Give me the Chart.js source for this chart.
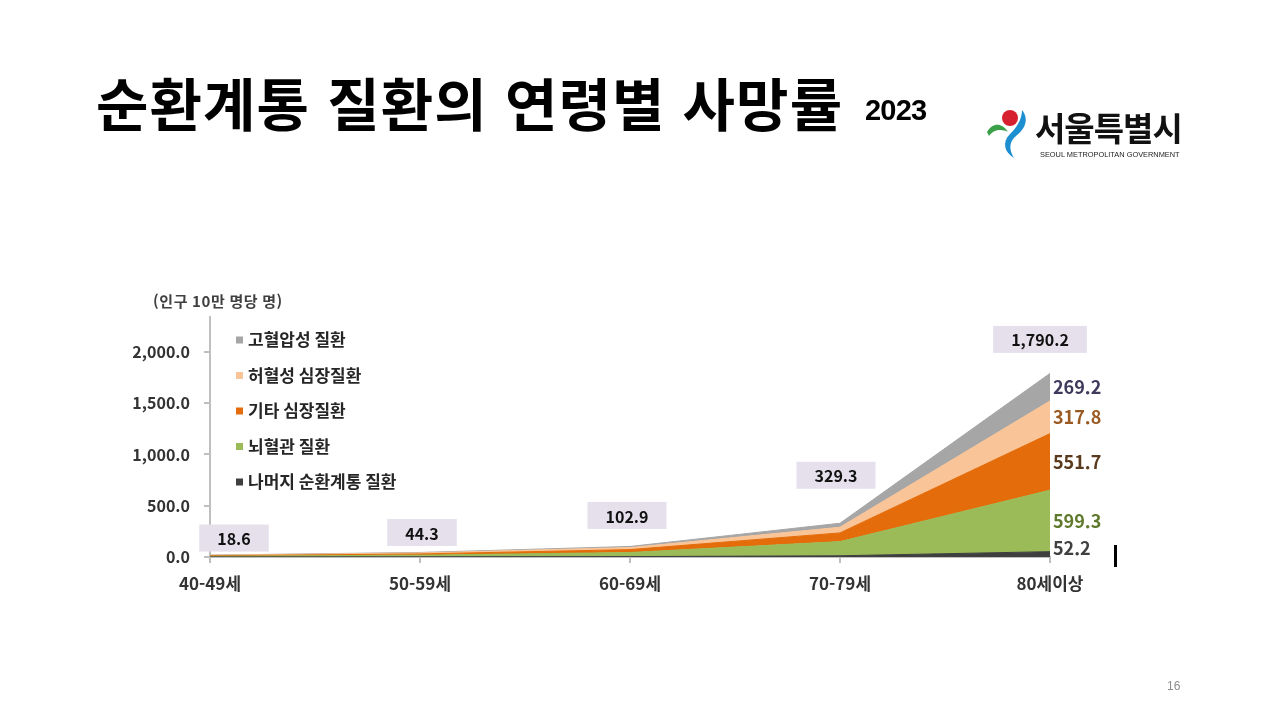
<!DOCTYPE html>
<html lang="ko">
<head>
<meta charset="utf-8">
<script src="https://cdn.jsdelivr.net/npm/chart.js@4.4.1/dist/chart.umd.min.js"></script>
<style>
  html, body { margin: 0; padding: 0; background: #fff; }
  #page { position: relative; width: 1280px; height: 720px; overflow: hidden; font-family: "Noto Sans CJK KR", "Noto Sans", sans-serif; }
  #chartWrap { position: absolute; left: 0; top: 0; width: 1280px; height: 720px; }
  .title { position: absolute; left: 96px; top: 73px; font-size: 57px; line-height: 1; font-weight: 700; color: #000; white-space: nowrap; letter-spacing: 1.1px; }
  .year { position: absolute; left: 865px; top: 96px; font-family: "Liberation Sans", Arial, sans-serif; font-size: 29px; line-height: 1; font-weight: 700; color: #000; letter-spacing: -0.8px; }
  .logoText { position: absolute; left: 1035px; top: 103px; font-size: 33px; font-weight: 700; color: #111; letter-spacing: -1px; }
  .logoSub { position: absolute; left: 1040px; top: 150px; font-family: "Liberation Sans", Arial, sans-serif; font-size: 7.4px; color: #222; white-space: nowrap; }
  .pageNo { position: absolute; left: 1167px; top: 679px; font-family: "Liberation Sans", Arial, sans-serif; font-size: 12px; color: #8c8c8c; }
  .mark { position: absolute; left: 1114px; top: 545px; width: 3px; height: 22px; background: #000; }
</style>
</head>
<body>
<div id="page">
  <div id="chartWrap"><canvas id="deathChart"></canvas></div>
  <div class="title">순환계통 질환의 연령별 사망률</div>
  <div class="year">2023</div>
  <svg style="position:absolute;left:984px;top:106px" width="50" height="56" viewBox="0 0 50 56">
    <circle cx="26" cy="12" r="8" fill="#d6202f"/>
    <path d="M3 26 C9 16 18 17 24 26 C18 23 10 23 5 30 Z" fill="#3aa047"/>
    <path d="M38 4 C46 14 40 24 32 30 C26 35 24 42 30 52 C20 46 18 36 26 28 C32 22 38 14 38 4 Z" fill="#1d8fd0"/>
  </svg>
  <div class="logoText">서울특별시</div>
  <div class="logoSub">SEOUL METROPOLITAN GOVERNMENT</div>
  <div class="pageNo">16</div>
  <div class="mark"></div>
</div>
<script>
// 연령대
const ageGroups = ['40-49세', '50-59세', '60-69세', '70-79세', '80세이상'];

// 질환별 사망률 (인구 10만 명당), 80세이상은 그림의 숫자, 나머지는 눈으로 읽은 값
const otherCirc    = [1.0, 2.0, 4.0, 12.0, 52.2];    // 나머지 순환계통 질환
const cerebroVasc  = [6.0, 16.0, 40.0, 138.0, 599.3]; // 뇌혈관 질환
const otherHeart   = [5.0, 12.0, 28.0, 85.0, 551.7];  // 기타 심장질환
const ischemic     = [5.0, 10.0, 20.0, 55.0, 317.8];  // 허혈성 심장질환
const hypertensive = [1.6, 4.3, 10.9, 39.3, 269.2];   // 고혈압성 질환

const yTickValues = [0, 500, 1000, 1500, 2000];

// 총계 상자의 화면 위치 보정 (px)
const boxOffsets = [[24, -17], [2, -20], [-3, -31], [-4, -48], [-10, -34]];

const seriesNames  = ['나머지 순환계통 질환', '뇌혈관 질환', '기타 심장질환', '허혈성 심장질환', '고혈압성 질환'];
const seriesValues = [otherCirc, cerebroVasc, otherHeart, ischemic, hypertensive];
const seriesColors = ['#3f3f3f', '#9bbb59', '#e46c0a', '#f9c497', '#a6a6a6'];
const labelColors  = ['#404040', '#5f7a2c', '#5a3a1c', '#9a5a22', '#3d3a5c'];

const FONT = '"Noto Sans CJK KR", "Noto Sans", sans-serif';

function fmt(v) {
    return v.toLocaleString('en-US', { minimumFractionDigits: 1, maximumFractionDigits: 1 });
}

const totals = ageGroups.map((_, i) => seriesValues.reduce((s, arr) => s + arr[i], 0));

// 범례, 단위, 총계 상자, 우측 값 라벨
const overlayPlugin = {
    id: 'overlay',
    afterDatasetsDraw(chart) {
        const ctx = chart.ctx;
        const x = chart.scales.x;
        const y = chart.scales.y;
        ctx.save();

        // 단위
        ctx.font = 'bold 15px ' + FONT;
        ctx.letterSpacing = '0.6px';
        ctx.fillStyle = '#404040';
        ctx.textAlign = 'left';
        ctx.textBaseline = 'middle';
        ctx.fillText('(인구 10만 명당 명)', 153, 301);
        ctx.letterSpacing = '0px';

        // 범례 (위에서부터 고혈압성 → 나머지)
        ctx.font = 'bold 17px ' + FONT;
        for (let k = 0; k < seriesNames.length; k++) {
            const idx = seriesNames.length - 1 - k;
            const ly = 340 + k * 35.5;
            ctx.fillStyle = seriesColors[idx];
            ctx.fillRect(236, ly - 3.5, 7, 7);
            ctx.fillStyle = '#262626';
            ctx.fillText(seriesNames[idx], 248, ly);
        }

        // 총계 상자
        ctx.font = 'bold 16px ' + FONT;
        ctx.textAlign = 'center';
        totals.forEach((t, i) => {
            const px = x.getPixelForValue(i) + boxOffsets[i][0];
            const py = y.getPixelForValue(t) + boxOffsets[i][1];
            const text = fmt(t);
            const w = ctx.measureText(text).width + 36;
            ctx.fillStyle = '#e5e0ec';
            ctx.fillRect(px - w / 2, py - 13.5, w, 27);
            ctx.fillStyle = '#111';
            ctx.fillText(text, px, py + 1);
        });

        // 80세이상 값 라벨 (각 구간 가운데)
        const last = ageGroups.length - 1;
        const lx = x.getPixelForValue(last) + 3;
        let base = 0;
        ctx.font = 'bold 18px ' + FONT;
        ctx.textAlign = 'left';
        seriesValues.forEach((arr, s) => {
            const v = arr[last];
            let py = y.getPixelForValue(base + v / 2);
            py = Math.min(py, y.getPixelForValue(0) - 9);
            ctx.fillStyle = labelColors[s];
            ctx.fillText(fmt(v), lx, py);
            base += v;
        });

        ctx.restore();
    }
};

const ctx = document.getElementById('deathChart').getContext('2d');
const chart = new Chart(ctx, {
    type: 'line',
    data: {
        labels: ageGroups,
        datasets: seriesValues.map((arr, s) => ({
            label: seriesNames[s],
            data: arr,
            backgroundColor: seriesColors[s],
            borderColor: seriesColors[s],
            borderWidth: 1,
            pointRadius: 0,
            tension: 0,
            fill: s === 0 ? 'origin' : '-1'
        }))
    },
    options: {
        responsive: true,
        maintainAspectRatio: false,
        animation: false,
        layout: { padding: { left: 0, right: 230, top: 317, bottom: 0 } },
        plugins: {
            legend: { display: false },
            tooltip: { enabled: false }
        },
        scales: {
            x: {
                offset: false,
                grid: { drawOnChartArea: false, drawTicks: true, tickLength: 6, color: '#bfbfbf', lineWidth: 2 },
                border: { color: '#bfbfbf', width: 2 },
                ticks: {
                    color: '#333',
                    font: { family: FONT, size: 17, weight: 'bold' },
                    padding: 10,
                    maxRotation: 0,
                    autoSkip: false
                },
                afterFit(scale) { scale.height = 163; }
            },
            y: {
                stacked: true,
                min: 0,
                max: 2340,
                grid: { drawOnChartArea: false, drawTicks: true, tickLength: 6, color: '#bfbfbf', lineWidth: 2 },
                border: { color: '#bfbfbf', width: 2 },
                afterBuildTicks(scale) {
                    scale.ticks = yTickValues.map(v => ({ value: v }));
                },
                ticks: {
                    color: '#333',
                    font: { family: FONT, size: 16, weight: 'bold' },
                    padding: 14,
                    callback: v => fmt(v)
                },
                afterFit(scale) { scale.width = 210; }
            }
        }
    },
    plugins: [overlayPlugin]
});
</script>
</body>
</html>
